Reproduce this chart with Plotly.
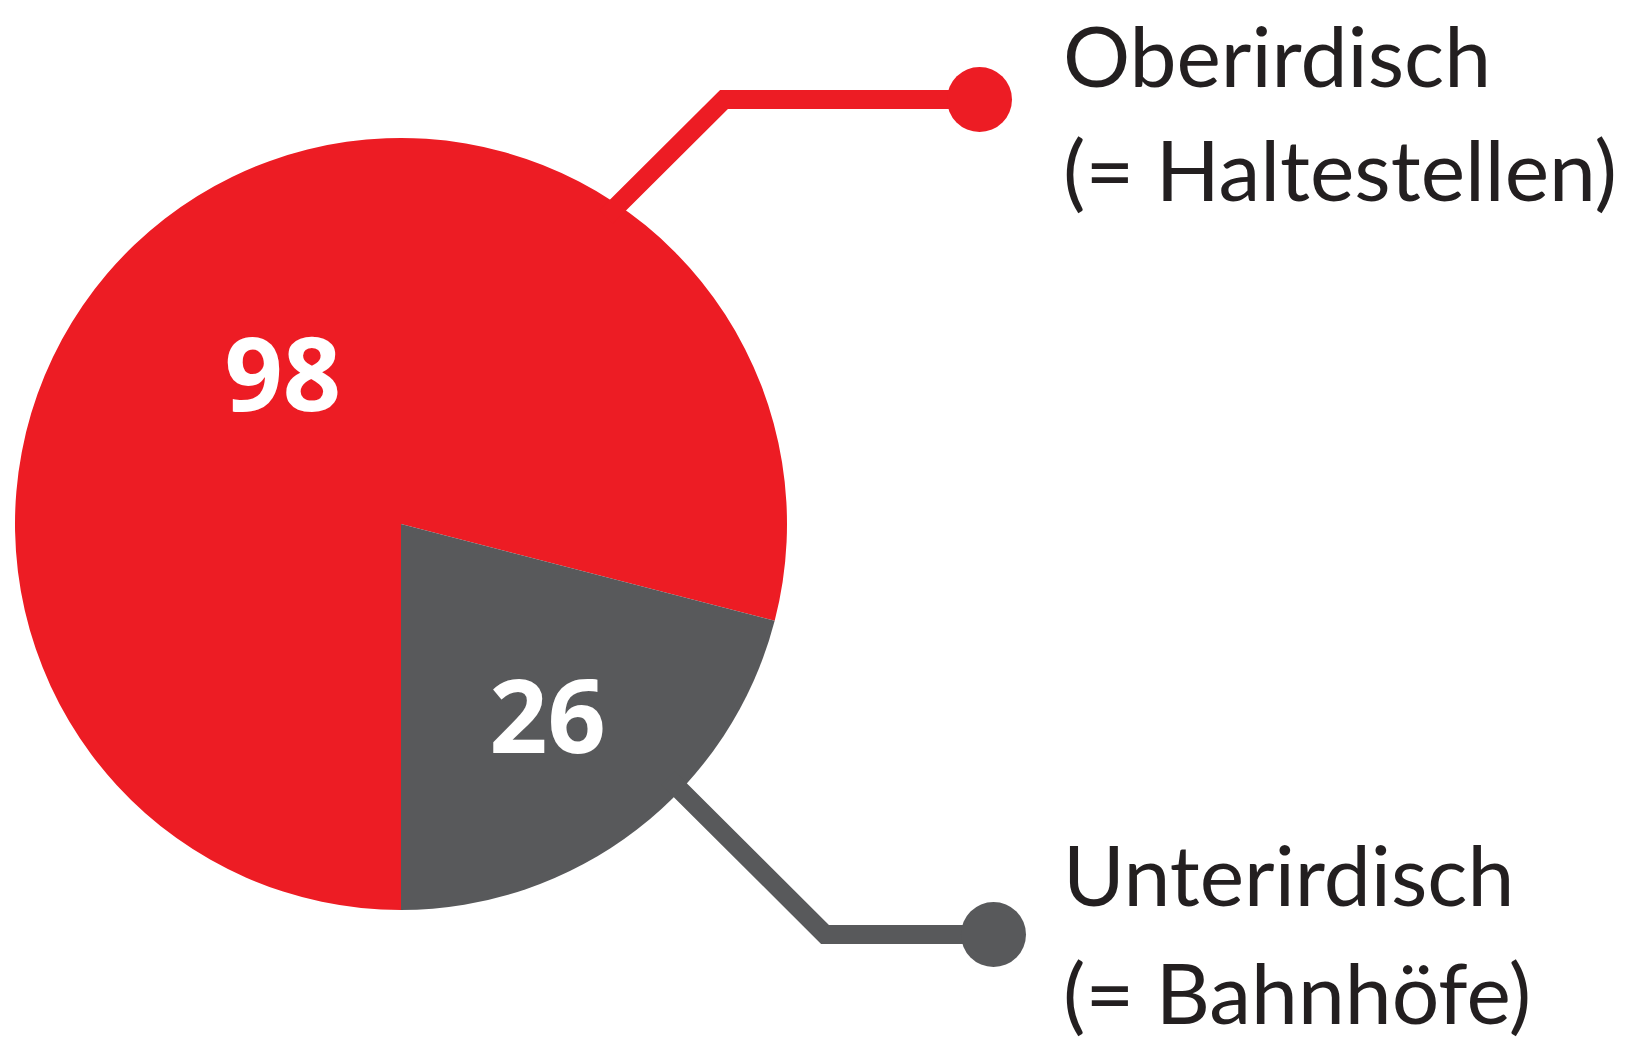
import plotly.graph_objects as go

W, H = 1633, 1038   # window size in pixels
OFF = 8             # default page body margin
FW, FH = W - OFF, H - OFF

categories = ["Oberirdisch", "Unterirdisch"]
values = [98, 26]
colors = ["#ED1C24", "#58595B"]
label_line1 = ["Oberirdisch", "Unterirdisch"]
label_line2 = ["(= Haltestellen)", "(= Bahnhöfe)"]

LABEL_FONT = "Lato, DejaVu Sans Condensed, sans-serif"
NUM_FONT = "Noto Sans, DejaVu Sans Condensed, sans-serif"

def px(x):
    return (x - OFF) / FW

def py(y):
    return 1 - (y - OFF) / FH

# pie geometry in window pixels
cx, cy, r = 401, 524, 386

fig = go.Figure()
fig.add_trace(go.Pie(
    labels=categories, values=values, sort=False,
    direction="clockwise", rotation=180,
    marker=dict(colors=colors, line=dict(width=0)),
    texttemplate="%{value}", textposition="inside",
    insidetextorientation="horizontal",
    textfont=dict(family=NUM_FONT, size=102, color="white", weight="bold"),
    domain=dict(x=[px(cx - r), px(cx + r)], y=[py(cy + r), py(cy - r)]),
    showlegend=False, hoverinfo="label+value",
))

# callout connectors (window pixel coords)
callouts = [
    dict(path=[(606, 217), (724, 99.5), (979.5, 99.5)], color=colors[0]),
    dict(path=[(668, 778), (825, 934.5), (993.5, 934.5)], color=colors[1]),
]
shapes = []
for c in callouts:
    pts = c["path"]
    d = "M " + " L ".join(f"{px(x)},{py(y)}" for x, y in pts)
    shapes.append(dict(type="path", path=d, xref="paper", yref="paper",
                       line=dict(color=c["color"], width=19), fillcolor="rgba(0,0,0,0)"))
    ex, ey = pts[-1]
    rr = 32.5
    shapes.append(dict(type="circle", xref="paper", yref="paper",
                       x0=px(ex - rr), x1=px(ex + rr), y0=py(ey + rr), y1=py(ey - rr),
                       fillcolor=c["color"], line=dict(width=0)))

font_lbl = dict(family=LABEL_FONT, size=84, color="#231F20")
annotations = []
ypos = [(54, 169), (873, 991)]
for i in range(2):
    for txt, y in zip([label_line1[i], label_line2[i]], ypos[i]):
        annotations.append(dict(text=txt, x=px(1061), y=py(y),
                                xref="paper", yref="paper",
                                xanchor="left", yanchor="middle", showarrow=False,
                                font=font_lbl))

fig.update_layout(
    width=FW, height=FH, margin=dict(l=0, r=0, t=0, b=0),
    paper_bgcolor="white", plot_bgcolor="white",
    shapes=shapes, annotations=annotations,
)

fig.write_html("out.html")
